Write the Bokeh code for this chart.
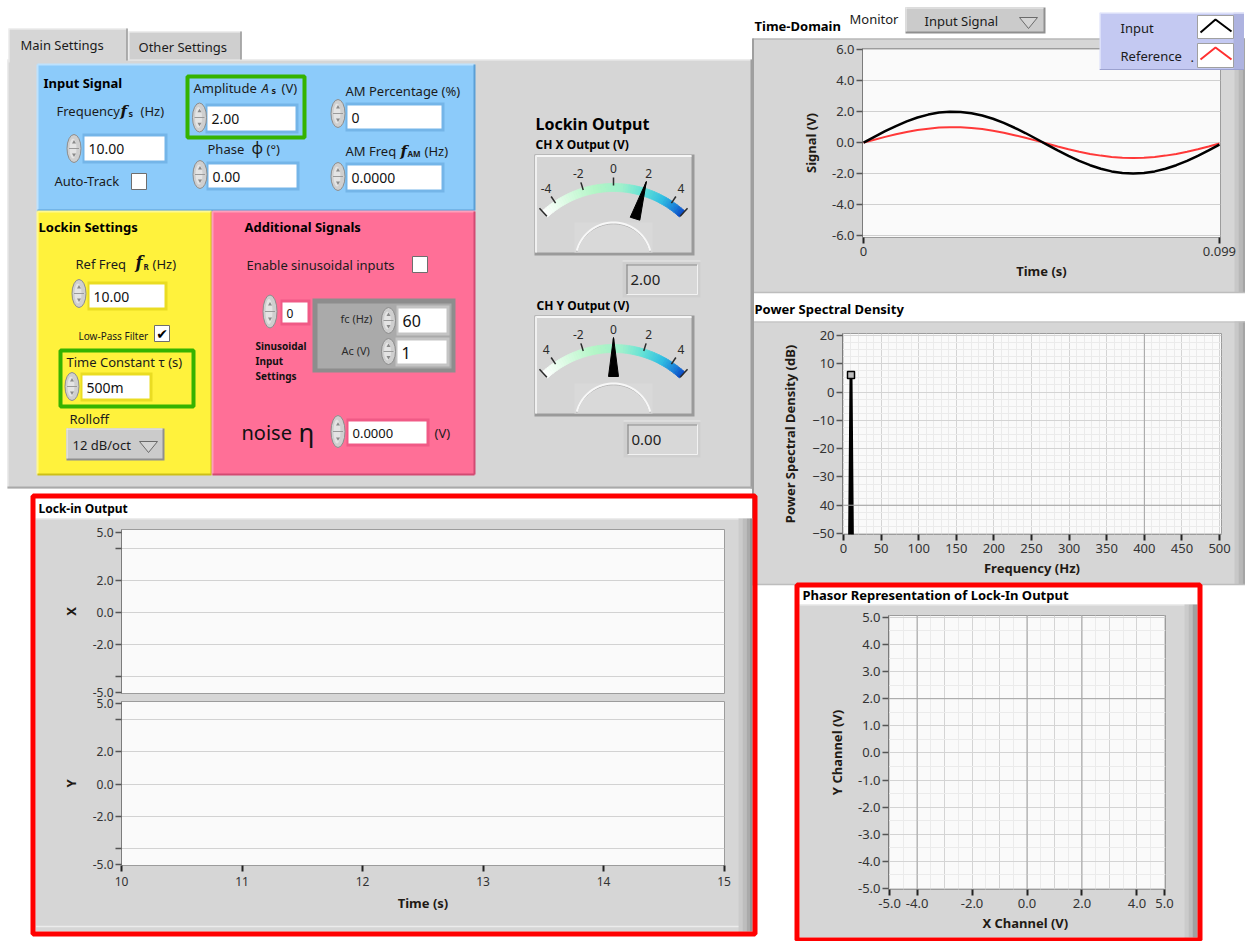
import math
from bokeh.plotting import figure
from bokeh.models import Range1d, FixedTicker, GridBox, ColumnDataSource, Span, NumeralTickFormatter, Grid
from bokeh.core.properties import value, field
from bokeh.embed import file_html
from bokeh.resources import INLINE

FONT = "Noto Sans"
SERIF = "DejaVu Serif"
SYMF = "DejaVu Sans"

# ---------------- data ----------------
input_frequency = "10.00"
input_amplitude = "2.00"
input_phase = "0.00"
am_percentage = "0"
am_frequency = "0.0000"
ref_frequency = "10.00"
time_constant = "500m"
rolloff = "12 dB/oct"
sinusoid_index = "0"
sinusoid_fc = "60"
sinusoid_ac = "1"
noise_level = "0.0000"
monitor_choice = "Input Signal"

ch_x_output = 2.00
ch_y_output = 0.00
gauge_tick_values = [-4, -2, 0, 2, 4]
gauge_x_tick_labels = ["-4", "-2", "0", "2", "4"]
gauge_y_tick_labels = ["4", "-2", "0", "2", "4"]

td_time = [0.000, 0.003, 0.006, 0.009, 0.012, 0.015, 0.018, 0.021, 0.024, 0.027,
           0.030, 0.033, 0.036, 0.039, 0.042, 0.045, 0.048, 0.051, 0.054, 0.057,
           0.060, 0.063, 0.066, 0.069, 0.072, 0.075, 0.078, 0.081, 0.084, 0.087,
           0.090, 0.093, 0.096, 0.099]
td_input = [0.00, 0.37, 0.74, 1.07, 1.37, 1.62, 1.81, 1.94, 2.00, 1.98,
            1.90, 1.75, 1.54, 1.27, 0.96, 0.62, 0.25, -0.13, -0.50, -0.85,
            -1.18, -1.46, -1.69, -1.86, -1.96, -2.00, -1.96, -1.86, -1.69, -1.46,
            -1.18, -0.85, -0.50, -0.13]
td_reference = [0.00, 0.19, 0.37, 0.54, 0.68, 0.81, 0.90, 0.97, 1.00, 0.99,
                0.95, 0.88, 0.77, 0.64, 0.48, 0.31, 0.13, -0.06, -0.25, -0.43,
                -0.59, -0.73, -0.84, -0.93, -0.98, -1.00, -0.98, -0.93, -0.84, -0.73,
                -0.59, -0.43, -0.25, -0.06]
td_y_ticks = [-6, -4, -2, 0, 2, 4, 6]
td_x_ticks = [0, 0.099]
legend_labels = ["Input", "Reference"]

psd_freq = [0, 5, 10, 15, 20]
psd_db = [-150.0, -150.0, 6.0, -150.0, -150.0]
psd_peak_freq = [10]
psd_peak_db = [6.0]
psd_x_ticks = [0, 50, 100, 150, 200, 250, 300, 350, 400, 450, 500]
psd_y_ticks = [-50, -40, -30, -20, -10, 0, 10, 20]
psd_y_label_overrides = {-40: "40"}

lockin_time = []
lockin_x = []
lockin_y = []
lockin_t_ticks = [10, 11, 12, 13, 14, 15]
lockin_v_ticks = [-5, -4, -2, 0, 2, 4, 5]
lockin_v_label_overrides = {4: "", -4: ""}

phasor_x = []
phasor_y = []
phasor_x_ticks = [-5, -4, -2, 0, 2, 4, 5]
phasor_y_ticks = [-5, -4, -3, -2, -1, 0, 1, 2, 3, 4, 5]

# ---------------- page geometry (1 px = 1 px of the reference) ----------------
W, H = 1245, 941


def PX(x):
    return x


def PY(y):
    return y


GRAY = "#d6d6d6"
BLUE = "#8ccbfa"
YELLOW = "#fff23c"
PINK = "#ff6f97"
GREEN = "#35b300"
RED = "#ff0000"

CUR = None
TEXTS = {}


def strip_guides(f):
    f.below = []
    f.left = []
    f.right = []
    f.above = []
    f.center = []


def canvas(l, t, r, b, fill=None):
    global CUR
    ql, qt, qr, qb = round(PX(l)), round(PY(t)), round(PX(r)), round(PY(b))
    f = figure(width=qr - ql, height=qb - qt, x_range=Range1d(l, r), y_range=Range1d(b, t),
               output_backend="svg", toolbar_location=None, title=None, min_border=0,
               min_border_left=0, min_border_right=0, min_border_top=0, min_border_bottom=0,
               outline_line_color=None, frame_align=False,
               background_fill_color=fill if fill else "#ffffff",
               background_fill_alpha=1.0 if fill else 0.0,
               border_fill_color="#ffffff", border_fill_alpha=0.0,
               margin=(qt, 0, 0, ql))
    strip_guides(f)
    CUR = f
    TEXTS[id(f)] = dict(x=[], y=[], text=[], size=[], style=[], color=[], align=[], font=[])
    return f


def T(x, y, s, size=13, style="normal", color="#1b1b1b", align="left", font=FONT):
    d = TEXTS[id(CUR)]
    d["x"].append(x)
    d["y"].append(y)
    d["text"].append(s)
    d["size"].append(f"{size}px")
    d["style"].append(style)
    d["color"].append(color)
    d["align"].append(align)
    d["font"].append(font)


def flush_texts(f):
    d = TEXTS[id(f)]
    if d["x"]:
        f.text(x="x", y="y", text="text", source=ColumnDataSource(d),
               text_font=field("font"), text_font_size=field("size"),
               text_font_style=field("style"), text_color=field("color"),
               text_align=field("align"), text_baseline="middle")


def rect(l, t, r, b, fill, line=None, lw=1):
    CUR.quad(left=[l], right=[r], top=[t], bottom=[b], fill_color=fill,
             line_color=line, line_width=lw)


def frame_box(l, t, r, b, color, lw):
    CUR.quad(left=[l], right=[r], top=[t], bottom=[b], fill_color=None,
             line_color=color, line_width=lw)


def seg(x0, y0, x1, y1, color, lw=1):
    CUR.segment(x0=[x0], y0=[y0], x1=[x1], y1=[y1], line_color=color, line_width=lw)


def bevel(l, t, r, b, light, dark, lw=1):
    seg(l, t, r, t, light, lw)
    seg(l, t, l, b, light, lw)
    seg(l, b, r, b, dark, lw)
    seg(r, t, r, b, dark, lw)


def spinner(cx, cy, h=28, w=14):
    CUR.ellipse(x=[cx], y=[cy], width=[w], height=[h], fill_color="#cfcfcf",
                line_color="#8c8c8c", line_width=1)
    CUR.ellipse(x=[cx - 1], y=[cy], width=[w - 7], height=[h - 8], fill_color="#e4e4e4",
                line_color=None)
    seg(cx - w / 2 + 2, cy, cx + w / 2 - 2, cy, "#9a9a9a", 1)
    CUR.scatter(x=[cx, cx], y=[cy - h * 0.22, cy + h * 0.22],
                marker=["triangle", "inverted_triangle"], size=4,
                fill_color="#8a8a8a", line_color=None)


def numbox(l, t, r, b, s, frame, size=14):
    rect(l - 2, t - 3, r + 3, b + 3, frame)
    rect(l, t, r, b, "#ffffff")
    T(l + 4, (t + b) / 2 + 0.5, s, size, color="#111111")


def checkbox(l, t, r, b, checked=False):
    rect(l, t, r, b, "#ffffff", "#6e6e6e", 1)
    if checked:
        T((l + r) / 2, (t + b) / 2, "\u2714", 14, "bold", "#000000", "center", SYMF)


def dropdown(l, t, r, b, s, tx, tri_cx):
    rect(l, t, r, b, "#8f8f8f")
    rect(l, t, r - 2, b - 2, "#cbcbcb")
    seg(l, t + 0.5, r - 2, t + 0.5, "#efefef")
    seg(l + 0.5, t, l + 0.5, b - 2, "#efefef")
    T(tx, (t + b) / 2, s, 13)
    cy = (t + b) / 2 + 2
    CUR.patch(x=[tri_cx - 9, tri_cx + 9, tri_cx], y=[cy - 5, cy - 5, cy + 6],
              fill_color="#d4d4d4", line_color="#6a6a6a", line_width=1)


def valbox(l, t, r, b, s):
    rect(l, t, r, b, "#cfcfcf")
    seg(l, t + 0.5, r, t + 0.5, "#ebebeb")
    rect(l + 4, t + 4, r - 3, b - 3, "#d8d8d8")
    seg(l + 4, t + 4.5, r - 3, t + 4.5, "#8a8a8a", 1.2)
    seg(l + 4.5, t + 4, l + 4.5, b - 3, "#8a8a8a", 1.2)
    seg(l + 4, b - 3, r - 3, b - 3, "#f2f2f2")
    seg(r - 3, t + 4, r - 3, b - 3, "#f2f2f2")
    T(l + 8, (t + b) / 2 + 0.5, s, 15, color="#222222")


STOPS = [(-5.0, (255, 255, 255)), (-3.2, (217, 251, 226)), (-1.2, (178, 246, 198)),
         (0.6, (157, 240, 204)), (2.0, (98, 226, 214)), (3.4, (47, 189, 226)),
         (4.4, (23, 124, 216)), (5.0, (10, 72, 196))]


def grad(v):
    for (v0, c0), (v1, c1) in zip(STOPS, STOPS[1:]):
        if v <= v1:
            t = (v - v0) / (v1 - v0)
            c = [round(a + (b - a) * t) for a, b in zip(c0, c1)]
            return "#%02x%02x%02x" % tuple(c)
    return "#0a48c4"


ARC = math.radians(42.3)


def gpt(cx, cy, v, r):
    th = v / 5.0 * ARC
    return cx + r * math.sin(th), cy - r * math.cos(th)


def gauge(top, val, labels):
    l, r, t, b = 534, 694, top, top + 101
    rect(l, t, r, b, "#9a9a9a")
    rect(l + 1, t + 1, r - 3, b - 3, "#d5d5d5")
    seg(l + 1, t + 1.5, r - 3, t + 1.5, "#f6f6f6", 2)
    seg(l + 1.5, t + 1, l + 1.5, b - 3, "#f0f0f0", 2)
    rect(574, t + 68, 652, b - 3, "#d9d9d9")
    cx2, cy2 = 613, t + 106
    xs, ys = [], []
    for k in range(41):
        a = math.radians(-75 + 150 * k / 40)
        xs.append(cx2 + 38 * math.sin(a))
        ys.append(cy2 - 38 * math.cos(a))
    CUR.line(xs, [y + 1.3 for y in ys], line_color="#b2b2b2", line_width=1)
    CUR.line(xs, ys, line_color="#f7f7f7", line_width=2)
    cx, cy = 613, t + 135
    n = 60
    pxs, pys, cols = [], [], []
    for k in range(n):
        v0 = -5 + 10 * k / n
        v1 = -5 + 10 * (k + 1) / n
        a0 = gpt(cx, cy, v0, 106)
        a1 = gpt(cx, cy, v1, 106)
        b1 = gpt(cx, cy, v1, 98)
        b0 = gpt(cx, cy, v0, 98)
        pxs.append([a0[0], a1[0], b1[0], b0[0]])
        pys.append([a0[1], a1[1], b1[1], b0[1]])
        cols.append(grad((v0 + v1) / 2))
    CUR.patches(pxs, pys, fill_color=cols, line_color=cols, line_width=0.8)
    for v in [-5, -4, -2, 0, 2, 4, 5]:
        r0, r1 = (99, 110) if abs(v) == 5 else (104, 112)
        p0 = gpt(cx, cy, v, r0)
        p1 = gpt(cx, cy, v, r1)
        seg(p0[0], p0[1], p1[0], p1[1], "#2b2b2b", 1.5)
    for v, s in zip(gauge_tick_values, labels):
        x, y = gpt(cx, cy, v, 121)
        T(x, y, s, 12, align="center", color="#2b2b2b")
    th = val / 5.0 * ARC
    bx, by = gpt(cx, cy, val, 74)
    tx, ty = gpt(cx, cy, val, 113)
    ux, uy = math.cos(th), math.sin(th)
    CUR.patch(x=[bx - 5 * ux, bx + 5 * ux, tx], y=[by - 5 * uy, by + 5 * uy, ty],
              fill_color="#000000", line_color="#000000", line_width=1)


# =============== background canvas ===============
bg = canvas(0, 0, W, H, fill="#ffffff")

# left tab control
rect(7, 59, 752, 488, GRAY)
seg(7, 59.5, 752, 59.5, "#f0f0f0")
seg(7.5, 59, 7.5, 488, "#eeeeee")
seg(751, 59, 751, 488, "#9e9e9e", 2)
seg(7, 487, 752, 487, "#a9a9a9", 2)
rect(128, 31, 241, 59, "#cfcfcf")
seg(128.5, 31, 128.5, 59, "#f2f2f2")
seg(128, 31.5, 241, 31.5, "#f2f2f2")
seg(240.5, 31, 240.5, 59, "#9a9a9a", 1.5)
rect(8, 28, 127, 62, GRAY)
seg(8.5, 28, 8.5, 62, "#f4f4f4")
seg(8, 28.5, 127, 28.5, "#f4f4f4")
seg(126.5, 28, 126.5, 60, "#9a9a9a", 1.5)
T(20, 44, "Main Settings", 13)
T(138, 46, "Other Settings", 13)

# input signal (blue)
rect(37, 64, 474, 210, BLUE)
bevel(37, 64, 474, 210, "#bde2fd", "#5b9fd6", 2)
frame_box(187, 76, 304, 137, GREEN, 4)
BLUEF = "#74b5e8"
T(43, 82, "Input Signal", 13, "bold", "#000000")
T(56, 110, "Frequency", 13)
T(120, 110, "f", 15, "bold italic", "#111111", font=SERIF)
T(128, 113, "s", 9, "bold")
T(140, 110, "(Hz)", 13)
numbox(84, 136, 164, 160, input_frequency, BLUEF)
spinner(73.5, 148)
T(54, 180, "Auto-Track", 13)
checkbox(131, 173, 146, 189)
T(193, 87, "Amplitude", 13)
T(261, 87, "A", 13, "italic")
T(271, 90, "s", 9, "bold")
T(281, 87, "(V)", 13)
numbox(207, 106, 295, 130, input_amplitude, BLUEF)
spinner(199, 117, 29)
T(207, 148, "Phase", 13)
T(251, 147, "\u03d5", 16)
T(266, 148, "(\u00b0)", 13)
numbox(208, 164, 296, 187, input_phase, BLUEF)
spinner(199.5, 174)
T(345, 90, "AM Percentage (%)", 13)
numbox(347, 105, 441, 128, am_percentage, BLUEF)
spinner(337.5, 113)
T(345, 150, "AM Freq", 13)
T(400, 150, "f", 15, "bold italic", "#111111", font=SERIF)
T(407, 153, "AM", 8, "bold")
T(424, 150, "(Hz)", 13)
numbox(347, 165, 441, 189, am_frequency, BLUEF)
spinner(337.5, 176)

# lockin settings (yellow)
rect(37, 211, 211, 474, YELLOW)
bevel(37, 211, 211, 474, "#fff98f", "#cdbf18", 2)
YELF = "#eadc22"
T(38, 226, "Lockin Settings", 13, "bold", "#000000")
T(75, 263, "Ref  Freq", 13)
T(135, 262, "f", 16, "bold italic", "#111111", font=SERIF)
T(143, 266, "R", 8, "bold")
T(152, 263, "(Hz)", 13)
numbox(89, 284, 164, 307, ref_frequency, YELF)
spinner(78.5, 293)
T(78, 335, "Low-Pass Filter", 10)
checkbox(154, 325, 169, 341, True)
frame_box(60, 350, 193, 406, GREEN, 4)
T(66, 361, "Time Constant \u03c4 (s)", 13)
numbox(82, 375, 149, 398, time_constant, YELF)
spinner(71.5, 386)
T(69, 418, "Rolloff", 13)
dropdown(66, 428, 164, 460, rolloff, 72, 148)

# additional signals (pink)
rect(212, 211, 474, 474, PINK)
bevel(212, 211, 474, 474, "#ff9fba", "#d24a72", 2)
PINKF = "#f05a86"
T(244, 226, "Additional Signals", 13, "bold", "#000000")
T(246, 264, "Enable sinusoidal inputs", 13)
checkbox(412, 256, 427, 272)
numbox(282, 302, 307, 322, sinusoid_index, PINKF, 12)
spinner(269.5, 311, 33)
T(255, 345, "Sinusoidal", 10, "bold", "#111111")
T(255, 360, "Input", 10, "bold", "#111111")
T(255, 375, "Settings", 10, "bold", "#111111")
rect(312, 298, 455, 372, "#8d8d8d")
rect(317, 303, 451, 368, "#aaaaaa")
T(340, 318, "fc (Hz)", 11, color="#2a2a2a")
T(341, 350, "Ac (V)", 11, color="#2a2a2a")
numbox(398, 308, 446, 332, sinusoid_fc, "#c4c4c4", 16)
spinner(388, 320, 26)
numbox(397, 340, 446, 363, sinusoid_ac, "#c4c4c4", 16)
spinner(388, 351, 26)
T(241, 432, "noise", 20, color="#111111")
T(298, 431, "\u03b7", 26, color="#111111")
numbox(348, 421, 426, 443, noise_level, PINKF, 13)
spinner(337.5, 431, 32)
T(434, 432, "(V)", 13)

# lockin output gauges
T(535, 123, "Lockin Output", 16, "bold", "#000000")
T(535, 144, "CH X Output (V)", 12, "bold", "#000000")
gauge(154, ch_x_output, gauge_x_tick_labels)
valbox(622, 260, 700, 297, f"{ch_x_output:.2f}")
T(536, 305, "CH Y Output (V)", 12, "bold", "#000000")
gauge(315, ch_y_output, gauge_y_tick_labels)
valbox(623, 420, 700, 457, f"{ch_y_output:.2f}")

# right side panels
rect(752, 38, 1245, 292, GRAY)
rect(752, 321, 1245, 584, GRAY)
for x0, x1, c in [(1234, 1238, "#c8c8c8"), (1238, 1242, "#b8b8b8"), (1242, 1245, "#a5a5a5")]:
    rect(x0, 38, x1, 292, c)
    rect(x0, 321, x1, 584, c)
seg(752, 38.5, 1245, 38.5, "#a8a8a8", 1)
seg(752, 292, 1245, 292, "#bdbdbd", 1.5)
seg(752, 321.5, 1245, 321.5, "#bdbdbd", 1)
seg(752, 584, 1245, 584, "#bdbdbd", 1.5)
seg(752.5, 38, 752.5, 585, "#9f9f9f", 2)
T(754, 25, "Time-Domain", 13, "bold", "#000000")
T(849, 18, "Monitor", 13)
dropdown(905, 7, 1045, 33, monitor_choice, 924, 1028)
T(754, 308, "Power Spectral Density", 13, "bold", "#000000")

# lock-in output panel
rect(35, 518, 752, 931, GRAY)
seg(35, 518.5, 752, 518.5, "#eeeeee")
for x0, x1, c in [(738, 742, "#cbcbcb"), (742, 746, "#bdbdbd"), (746, 749, "#aaaaaa"), (749, 752, "#949494")]:
    rect(x0, 518, x1, 931, c)
seg(35, 926, 738, 926, "#ececec", 1.5)
frame_box(32.5, 495.5, 754.5, 933.5, RED, 5)
T(38, 508, "Lock-in Output", 12, "bold", "#000000")

# phasor panel
rect(799, 604, 1197, 937, GRAY)
seg(799, 604.5, 1197, 604.5, "#eeeeee")
for x0, x1, c in [(1184, 1188, "#cbcbcb"), (1188, 1192, "#bdbdbd"), (1192, 1197, "#a0a0a0")]:
    rect(x0, 604, x1, 937, c)
frame_box(796.5, 584.5, 1199.5, 939.5, RED, 5)
T(802, 594, "Phasor Representation of Lock-In Output", 13, "bold", "#000000")
flush_texts(bg)


# =============== chart figures ===============
def chart(frame, outer, xr, yr, no_x=False):
    fl, ft, fr, fb = frame
    ol, ot, orr, ob = outer
    pl, pt, pr, pb = round(PX(fl)), round(PY(ft)), round(PX(fr)), round(PY(fb))
    ql, qt, qr, qb = round(PX(ol)), round(PY(ot)), round(PX(orr)), round(PY(ob))
    p = figure(width=qr - ql, height=qb - qt, x_range=Range1d(*xr), y_range=Range1d(*yr),
               output_backend="svg", toolbar_location=None, title=None,
               min_border_left=pl - ql, min_border_right=qr - pr,
               min_border_top=pt - qt, min_border_bottom=qb - pb,
               background_fill_color="#fafafa", border_fill_alpha=0.0,
               outline_line_color="#9c9c9c", outline_line_width=1,
               frame_align=False, margin=(qt, 0, 0, ql))
    if no_x:
        p.below = []
        p.center = [r for r in p.center if not (isinstance(r, Grid) and r.dimension == 0)]
    for ax in p.axis:
        ax.major_label_text_font = FONT
        ax.major_label_text_font_size = "13px"
        ax.major_label_text_color = "#333333"
        ax.axis_label_text_font = FONT
        ax.axis_label_text_font_size = "13px"
        ax.axis_label_text_font_style = "bold"
        ax.axis_label_text_color = "#1f1a14"
        ax.minor_tick_line_color = None
        ax.major_tick_in = 0
        ax.major_tick_out = 6
        ax.major_label_standoff = 2
    for ax in p.xaxis:
        ax.axis_line_color = None
        ax.major_tick_line_color = "#222222"
        ax.major_tick_line_width = 2
        ax.major_label_standoff = 3
        ax.axis_label_standoff = 3
    for ax in p.yaxis:
        ax.axis_line_color = "#7c7c7c"
        ax.major_tick_line_color = "#555555"
        ax.major_tick_line_width = 1.5
    for g in p.grid:
        g.grid_line_color = "#d0d0d0"
    return p


# time-domain
td = chart((860, 48, 1220, 237), (798, 39, 1244, 290), (-0.0003, 0.0993), (-6.13, 6.08))
td.yaxis.ticker = FixedTicker(ticks=td_y_ticks)
td.yaxis.formatter = NumeralTickFormatter(format="0.0")
td.xaxis.ticker = FixedTicker(ticks=td_x_ticks)
td.xaxis.formatter = NumeralTickFormatter(format="0.[000]")
td.xgrid.grid_line_color = None
td.xaxis.axis_label = "Time (s)"
td.yaxis.axis_label = "Signal (V)"
td.yaxis.axis_label_standoff = 9
td.line(td_time, td_reference, line_color="#ff3838", line_width=2)
td.line(td_time, td_input, line_color="#000000", line_width=2.5)

# legend overlay (drawn above the time-domain plot)
leg = canvas(1099, 12, 1244, 70)
rect(1099, 12, 1244, 70, "#c4c9f2")
rect(1233, 12, 1244, 70, "#aeb3e0")
seg(1099, 12.5, 1244, 12.5, "#e3e6fb", 1.5)
seg(1099.5, 12, 1099.5, 70, "#e3e6fb", 1.5)
seg(1099, 69.3, 1244, 69.3, "#9ba1cf", 1.5)
rect(1197, 15, 1233, 38, "#ffffff", "#a0a0a0")
rect(1197, 43, 1233, 67, "#ffffff", "#a0a0a0")
leg.line([1200, 1215, 1231], [32, 19, 31], line_color="#000000", line_width=2)
leg.line([1200, 1215, 1231], [59, 47, 59], line_color="#ff3030", line_width=2)
T(1120, 27, legend_labels[0], 13)
T(1120, 55, legend_labels[1], 13)
T(1190, 57, ".", 13)
flush_texts(leg)

# power spectral density
psd = chart((839, 333, 1221, 534), (778, 324, 1244, 584), (-1.3, 502.6), (-50.35, 20.7))
psd.xaxis.ticker = FixedTicker(ticks=psd_x_ticks,
                               minor_ticks=[v for v in range(0, 501, 10) if v % 50])
psd.yaxis.ticker = FixedTicker(ticks=psd_y_ticks,
                               minor_ticks=[v / 2 for v in range(-100, 41, 5) if v % 20])
psd.yaxis.major_label_overrides = psd_y_label_overrides
psd.xgrid.minor_grid_line_color = "#ebebeb"
psd.ygrid.minor_grid_line_color = "#ebebeb"
psd.grid.grid_line_color = "#d4d4d4"
psd.add_layout(Span(location=400, dimension="height", line_color="#a4a4a4", line_width=1))
psd.add_layout(Span(location=-40, dimension="width", line_color="#a4a4a4", line_width=1))
psd.xaxis.axis_label = "Frequency (Hz)"
psd.yaxis.axis_label = "Power Spectral Density (dB)"
psd.yaxis.axis_label_standoff = 10
psd.line(psd_freq, psd_db, line_color="#000000", line_width=3)
psd.scatter(psd_peak_freq, psd_peak_db, marker="square", size=7,
            fill_color="#bdbdbd", line_color="#000000", line_width=1.5)

# phasor
ph = chart((886, 615, 1165, 889), (824, 606, 1183, 940), (-5.04, 5.04), (-5.04, 5.07))
ph.xaxis.ticker = FixedTicker(ticks=phasor_x_ticks)
ph.yaxis.ticker = FixedTicker(ticks=phasor_y_ticks)
ph.xaxis.formatter = NumeralTickFormatter(format="0.0")
ph.yaxis.formatter = NumeralTickFormatter(format="0.0")
ph.xgrid.ticker = FixedTicker(ticks=phasor_y_ticks, minor_ticks=[v / 2 for v in range(-9, 10, 2)])
ph.ygrid.ticker = FixedTicker(ticks=phasor_y_ticks, minor_ticks=[v / 2 for v in range(-9, 10, 2)])
ph.grid.grid_line_color = "#d4d4d4"
ph.grid.minor_grid_line_color = "#ebebeb"
for loc in [-4, 0, 2]:
    ph.add_layout(Span(location=loc, dimension="height", line_color="#a4a4a4", line_width=1))
ph.add_layout(Span(location=2, dimension="width", line_color="#a4a4a4", line_width=1))
ph.xaxis.axis_label = "X Channel  (V)"
ph.yaxis.axis_label = "Y Channel (V)"
ph.yaxis.axis_label_standoff = 9
ph.scatter(phasor_x, phasor_y, size=6, color="#000000")

# lock-in output X / Y strip charts
lx = chart((121, 529, 724, 693), (56, 520, 742, 701), (10, 15.004), (-5.08, 5.17), no_x=True)
ly = chart((121, 701, 724, 865), (56, 694, 742, 916), (10, 15.004), (-5.06, 5.14))
for p, lab in [(lx, "X"), (ly, "Y")]:
    p.yaxis.ticker = FixedTicker(ticks=lockin_v_ticks)
    p.yaxis.formatter = NumeralTickFormatter(format="0.0")
    p.yaxis.major_label_overrides = lockin_v_label_overrides
    p.yaxis.major_label_text_font_size = "12px"
    p.yaxis.axis_label = lab
    p.yaxis.axis_label_standoff = 10
    p.ygrid.ticker = FixedTicker(ticks=[-4, -2, 0, 2, 4])
    p.ygrid.grid_line_color = "#d2d2d2"
ly.xaxis.ticker = FixedTicker(ticks=lockin_t_ticks)
ly.xaxis.major_label_text_font_size = "12px"
ly.xaxis.major_label_standoff = 5
ly.xaxis.axis_label_standoff = 5
ly.xgrid.grid_line_color = None
ly.xaxis.axis_label = "Time (s)"
lx.line(lockin_time, lockin_x, line_color="#000000", line_width=2)
ly.line(lockin_time, lockin_y, line_color="#000000", line_width=2)

layout = GridBox(children=[(bg, 0, 0), (td, 0, 0), (leg, 0, 0), (psd, 0, 0), (ph, 0, 0),
                           (lx, 0, 0), (ly, 0, 0)],
                 rows=f"{H}px", cols=f"{W}px", spacing=0)

open("out.html", "w").write(file_html(layout, INLINE, "Lock-in Amplifier"))
